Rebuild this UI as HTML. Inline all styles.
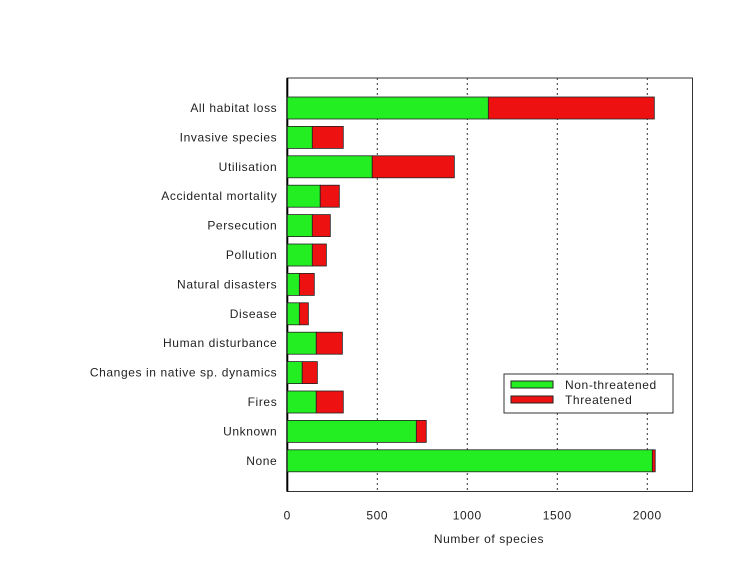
<!DOCTYPE html>
<html><head><meta charset="utf-8"><style>
body{margin:0;background:#fff;}
svg text{font-family:"Liberation Sans",sans-serif;font-size:12px;letter-spacing:0.6px;fill:#222;}
</style></head><body>
<svg id="c" width="754" height="578"></svg>
<script>
const categories=["All habitat loss","Invasive species","Utilisation","Accidental mortality","Persecution","Pollution","Natural disasters","Disease","Human disturbance","Changes in native sp. dynamics","Fires","Unknown","None"];
const nonThreatened=[1117,139,472,183,139,139,67,67,161,83,161,717,2028];
const threatened=[922,172,456,106,100,78,83,50,145,84,150,55,16];
const ticks=[0,500,1000,1500,2000];
const svg=document.getElementById('c');
const NS='http://www.w3.org/2000/svg';
const X0=287.3,PX=0.18,TOP=78,BOT=491.5,RIGHT=692.5;
const xs=v=>X0+v*PX;
const ys=i=>97+i*29.4;
function mk(t,a,txt){const e=document.createElementNS(NS,t);for(const k in a)e.setAttribute(k,a[k]);if(txt!==undefined)e.textContent=txt;svg.appendChild(e);return e;}
let e;
e=mk('rect',{x:X0,y:TOP,width:RIGHT-X0,height:BOT-TOP,fill:'none',stroke:'#333','stroke-width':1});

ticks.forEach(t=>{
 if(t>0){e=mk('line',{x1:xs(t),x2:xs(t),y1:TOP,y2:BOT,stroke:'#333','stroke-dasharray':'2,3'});
 }
 e=mk('text',{x:xs(t),y:BOT+28,'text-anchor':'middle'},t);
 
});
e=mk('line',{x1:X0,x2:X0,y1:TOP,y2:BOT,stroke:'#000','stroke-width':2});

categories.forEach((c,i)=>{
 const y=ys(i),h=22;
 e=mk('rect',{x:xs(0),y:y,width:nonThreatened[i]*PX,height:h,fill:'#22ee22',stroke:'#222','stroke-width':0.8});
 
 e=mk('rect',{x:xs(nonThreatened[i]),y:y,width:threatened[i]*PX,height:h,fill:'#ee1111',stroke:'#222','stroke-width':0.8});
 
 e=mk('text',{x:X0-10,y:y+h/2+4,'text-anchor':'end'},c);
 
});
e=mk('text',{x:489,y:543,'text-anchor':'middle'},'Number of species');

e=mk('rect',{x:504,y:374,width:169,height:39,fill:'#fff',stroke:'#333'});

e=mk('rect',{x:511,y:381,width:42,height:7,fill:'#22ee22',stroke:'#222'});

e=mk('text',{x:565,y:389},'Non-threatened');

e=mk('rect',{x:511,y:396,width:42,height:7,fill:'#ee1111',stroke:'#222'});

e=mk('text',{x:565,y:404},'Threatened');

</script>
</body></html>
